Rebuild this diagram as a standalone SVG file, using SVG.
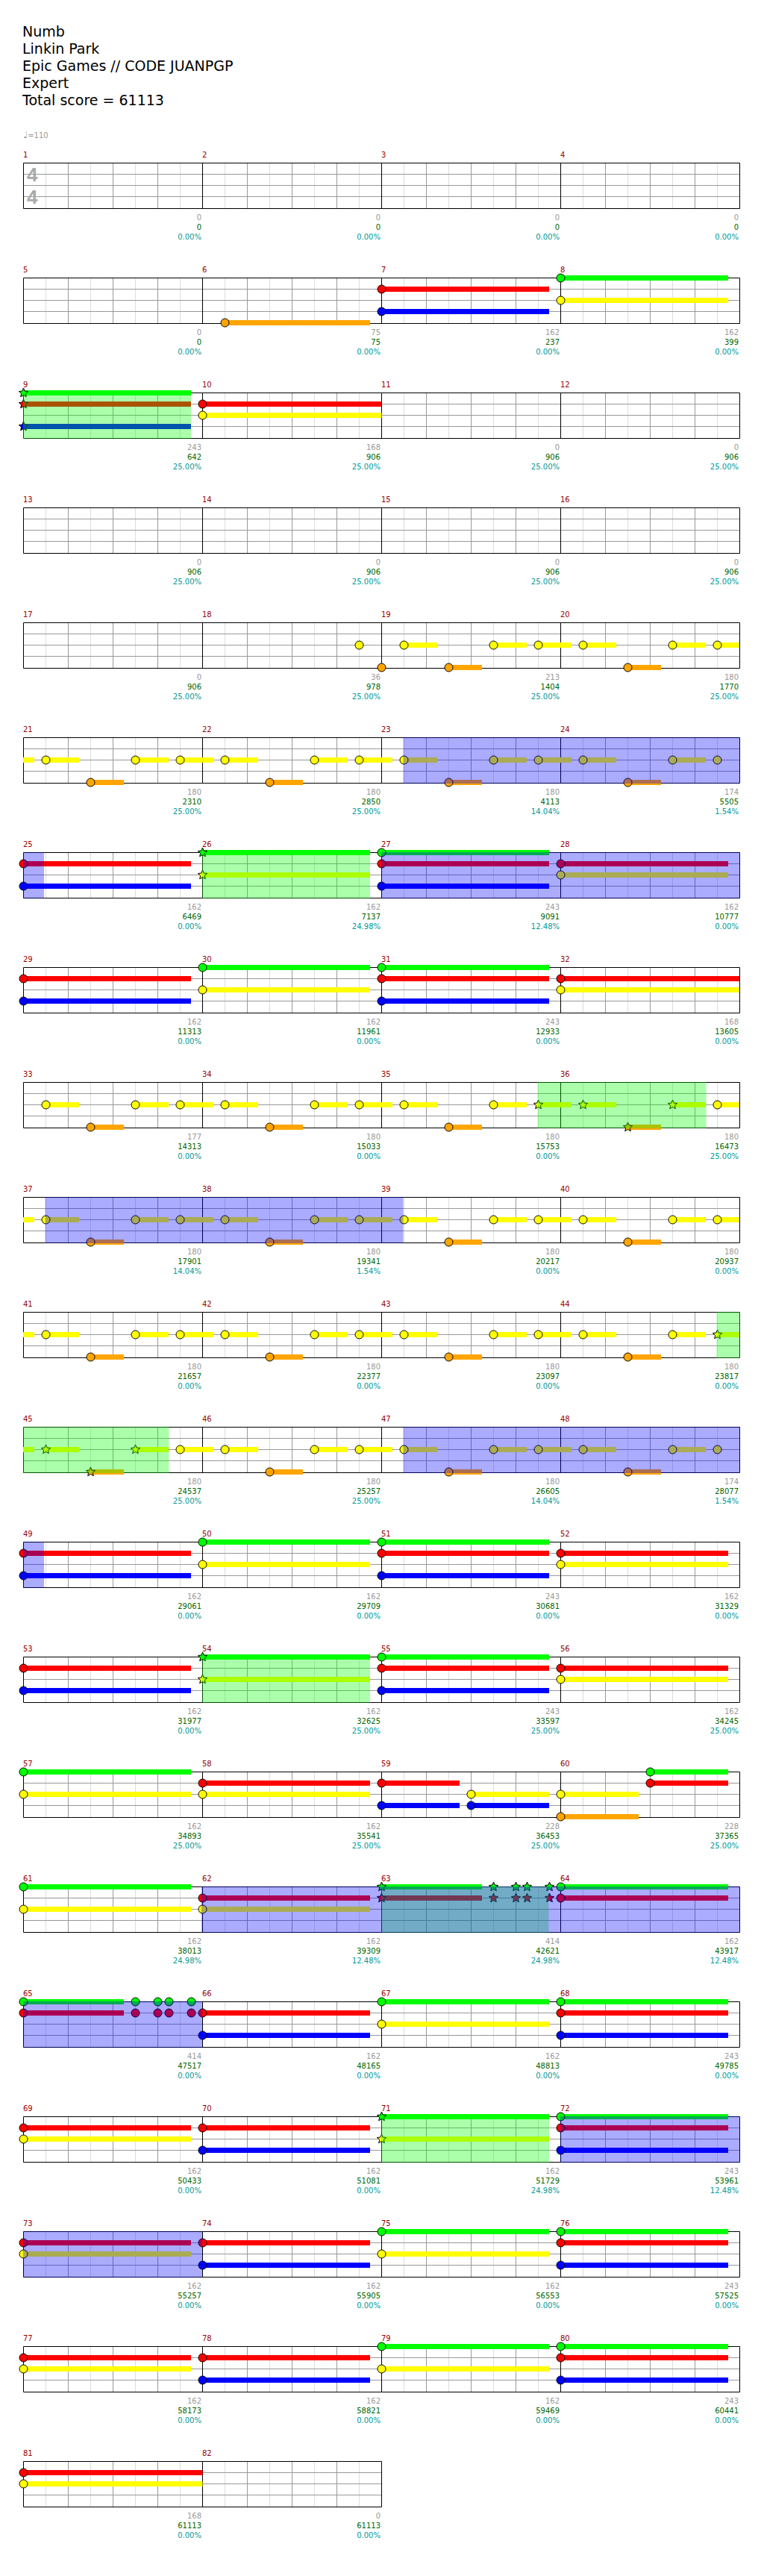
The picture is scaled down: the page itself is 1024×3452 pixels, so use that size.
<svg xmlns="http://www.w3.org/2000/svg" width="1024" height="3452" viewBox="0 0 1024 3452">
<style>
text{font-family:"DejaVu Sans",sans-serif}
.ti{font-size:19px;fill:#000}
.tp{font-size:10px;fill:#999}
.ts{font-family:"Liberation Sans",sans-serif;font-size:26px;font-weight:bold;fill:#aaa}
.mn{font-size:10px;fill:#900}
.l1,.l2,.l3{font-size:10px;text-anchor:end}
.l1{fill:#999}.l2{fill:#060}.l3{fill:#099}
.lt{stroke:#ddd;fill:none}
.md{stroke:#999;fill:none}
.bk{stroke:#000;fill:none}
.s{stroke-width:7;fill:none}
.sG{stroke:#0f0}.sR{stroke:#f00}.sY{stroke:#ff0}.sB{stroke:#00f}.sO{stroke:#ffa500}
.n{stroke:#000;stroke-width:1}
.G{fill:#0f0}.R{fill:#f00}.Y{fill:#ff0}.B{fill:#00f}.O{fill:#ffa500}
.og{fill:#0f0;fill-opacity:.33}
.ob{fill:#00f;fill-opacity:.33}
</style>
<defs>
<polygon id="st" points="0,-6.5 1.76,-2.43 6.18,-2.01 2.85,0.93 3.82,5.26 0,3 -3.82,5.26 -2.85,0.93 -6.18,-2.01 -1.76,-2.43" stroke="#000" stroke-width="1"/>
<g id="g4">
<path class="lt" d="M61.5 0v62M121.5 0v62M181.5 0v62M241.5 0v62M301.5 0v62M361.5 0v62M421.5 0v62M481.5 0v62M541.5 0v62M601.5 0v62M661.5 0v62M721.5 0v62M781.5 0v62M841.5 0v62M901.5 0v62M961.5 0v62"/>
<path class="md" d="M91.5 0v62M151.5 0v62M211.5 0v62M331.5 0v62M391.5 0v62M451.5 0v62M571.5 0v62M631.5 0v62M691.5 0v62M811.5 0v62M871.5 0v62M931.5 0v62M31 15.5h960M31 30.5h960M31 45.5h960"/>
<path class="bk" d="M31.5 0.5h960v61h-960zM271.5 0.5v61M511.5 0.5v61M751.5 0.5v61"/>
</g>
<g id="g2">
<path class="lt" d="M61.5 0v62M121.5 0v62M181.5 0v62M241.5 0v62M301.5 0v62M361.5 0v62M421.5 0v62M481.5 0v62"/>
<path class="md" d="M91.5 0v62M151.5 0v62M211.5 0v62M331.5 0v62M391.5 0v62M451.5 0v62M31 15.5h480M31 30.5h480M31 45.5h480"/>
<path class="bk" d="M31.5 0.5h480v61h-480zM271.5 0.5v61"/>
</g>
</defs>
<rect width="1024" height="3452" fill="#fff"/>
<g id="header">
<text class="ti" x="30" y="49">Numb</text>
<text class="ti" x="30" y="72">Linkin Park</text>
<text class="ti" x="30" y="95">Epic Games // CODE JUANPGP</text>
<text class="ti" x="30" y="118">Expert</text>
<text class="ti" x="30" y="141">Total score = 61113</text>
<text class="tp" x="31" y="185"><tspan font-size="13">♩</tspan>=110</text>
</g>

<g id="row1" transform="translate(0,218)">
<use href="#g4"/>
<text class="ts" x="36" y="24.5">4</text>
<text class="ts" x="36" y="54.5">4</text>
<text class="mn" x="31" y="-7">1</text><text class="mn" x="271" y="-7">2</text><text class="mn" x="511" y="-7">3</text><text class="mn" x="751" y="-7">4</text>
<text class="l1" x="270" y="76.5">0</text><text class="l2" x="270" y="89.5">0</text><text class="l3" x="270" y="102.5">0.00%</text>
<text class="l1" x="510" y="76.5">0</text><text class="l2" x="510" y="89.5">0</text><text class="l3" x="510" y="102.5">0.00%</text>
<text class="l1" x="750" y="76.5">0</text><text class="l2" x="750" y="89.5">0</text><text class="l3" x="750" y="102.5">0.00%</text>
<text class="l1" x="990" y="76.5">0</text><text class="l2" x="990" y="89.5">0</text><text class="l3" x="990" y="102.5">0.00%</text>
</g>

<g id="row2" transform="translate(0,372)">
<use href="#g4"/>
<text class="mn" x="31" y="-7">5</text><text class="mn" x="271" y="-7">6</text><text class="mn" x="511" y="-7">7</text><text class="mn" x="751" y="-7">8</text>
<path class="s sO" d="M301.5 60.5H496"/>
<path class="s sR" d="M511.5 15.5H736"/>
<path class="s sB" d="M511.5 45.5H736"/>
<path class="s sG" d="M751.5 0.5H976"/>
<path class="s sY" d="M751.5 30.5H976"/>
<circle class="n O" cx="301.5" cy="60.5" r="5.5"/>
<circle class="n R" cx="511.5" cy="15.5" r="5.5"/><circle class="n B" cx="511.5" cy="45.5" r="5.5"/>
<circle class="n G" cx="751.5" cy="0.5" r="5.5"/><circle class="n Y" cx="751.5" cy="30.5" r="5.5"/>
<text class="l1" x="270" y="76.5">0</text><text class="l2" x="270" y="89.5">0</text><text class="l3" x="270" y="102.5">0.00%</text>
<text class="l1" x="510" y="76.5">75</text><text class="l2" x="510" y="89.5">75</text><text class="l3" x="510" y="102.5">0.00%</text>
<text class="l1" x="750" y="76.5">162</text><text class="l2" x="750" y="89.5">237</text><text class="l3" x="750" y="102.5">0.00%</text>
<text class="l1" x="990" y="76.5">162</text><text class="l2" x="990" y="89.5">399</text><text class="l3" x="990" y="102.5">0.00%</text>
</g>

<g id="row3" transform="translate(0,526)">
<use href="#g4"/>
<text class="mn" x="31" y="-7">9</text><text class="mn" x="271" y="-7">10</text><text class="mn" x="511" y="-7">11</text><text class="mn" x="751" y="-7">12</text>
<path class="s sG" d="M31.5 0.5H256"/>
<path class="s sR" d="M31.5 15.5H256M271.5 15.5H511.5"/>
<path class="s sB" d="M31.5 45.5H256"/>
<path class="s sY" d="M271.5 30.5H511.5"/>
<use href="#st" class="G" x="31.5" y="0.5"/><use href="#st" class="R" x="31.5" y="15.5"/><use href="#st" class="B" x="31.5" y="45.5"/>
<circle class="n R" cx="271.5" cy="15.5" r="5.5"/><circle class="n Y" cx="271.5" cy="30.5" r="5.5"/>
<rect class="og" x="31" y="0" width="225" height="62"/>
<text class="l1" x="270" y="76.5">243</text><text class="l2" x="270" y="89.5">642</text><text class="l3" x="270" y="102.5">25.00%</text>
<text class="l1" x="510" y="76.5">168</text><text class="l2" x="510" y="89.5">906</text><text class="l3" x="510" y="102.5">25.00%</text>
<text class="l1" x="750" y="76.5">0</text><text class="l2" x="750" y="89.5">906</text><text class="l3" x="750" y="102.5">25.00%</text>
<text class="l1" x="990" y="76.5">0</text><text class="l2" x="990" y="89.5">906</text><text class="l3" x="990" y="102.5">25.00%</text>
</g>

<g id="row4" transform="translate(0,680)">
<use href="#g4"/>
<text class="mn" x="31" y="-7">13</text><text class="mn" x="271" y="-7">14</text><text class="mn" x="511" y="-7">15</text><text class="mn" x="751" y="-7">16</text>
<text class="l1" x="270" y="76.5">0</text><text class="l2" x="270" y="89.5">906</text><text class="l3" x="270" y="102.5">25.00%</text>
<text class="l1" x="510" y="76.5">0</text><text class="l2" x="510" y="89.5">906</text><text class="l3" x="510" y="102.5">25.00%</text>
<text class="l1" x="750" y="76.5">0</text><text class="l2" x="750" y="89.5">906</text><text class="l3" x="750" y="102.5">25.00%</text>
<text class="l1" x="990" y="76.5">0</text><text class="l2" x="990" y="89.5">906</text><text class="l3" x="990" y="102.5">25.00%</text>
</g>

<g id="row5" transform="translate(0,834)">
<use href="#g4"/>
<text class="mn" x="31" y="-7">17</text><text class="mn" x="271" y="-7">18</text><text class="mn" x="511" y="-7">19</text><text class="mn" x="751" y="-7">20</text>
<path class="s sY" d="M541.5 30.5H586M661.5 30.5H706M721.5 30.5H766M781.5 30.5H826M901.5 30.5H946M961.5 30.5H991"/>
<path class="s sO" d="M601.5 60.5H646M841.5 60.5H886"/>
<circle class="n Y" cx="481.5" cy="30.5" r="5.5"/>
<circle class="n O" cx="511.5" cy="60.5" r="5.5"/>
<circle class="n Y" cx="541.5" cy="30.5" r="5.5"/><circle class="n O" cx="601.5" cy="60.5" r="5.5"/><circle class="n Y" cx="661.5" cy="30.5" r="5.5"/><circle class="n Y" cx="721.5" cy="30.5" r="5.5"/>
<circle class="n Y" cx="781.5" cy="30.5" r="5.5"/><circle class="n O" cx="841.5" cy="60.5" r="5.5"/><circle class="n Y" cx="901.5" cy="30.5" r="5.5"/><circle class="n Y" cx="961.5" cy="30.5" r="5.5"/>
<text class="l1" x="270" y="76.5">0</text><text class="l2" x="270" y="89.5">906</text><text class="l3" x="270" y="102.5">25.00%</text>
<text class="l1" x="510" y="76.5">36</text><text class="l2" x="510" y="89.5">978</text><text class="l3" x="510" y="102.5">25.00%</text>
<text class="l1" x="750" y="76.5">213</text><text class="l2" x="750" y="89.5">1404</text><text class="l3" x="750" y="102.5">25.00%</text>
<text class="l1" x="990" y="76.5">180</text><text class="l2" x="990" y="89.5">1770</text><text class="l3" x="990" y="102.5">25.00%</text>
</g>

<g id="row6" transform="translate(0,988)">
<use href="#g4"/>
<text class="mn" x="31" y="-7">21</text><text class="mn" x="271" y="-7">22</text><text class="mn" x="511" y="-7">23</text><text class="mn" x="751" y="-7">24</text>
<path class="s sY" d="M31 30.5H46M61.5 30.5H106M181.5 30.5H226M241.5 30.5H286M301.5 30.5H346M421.5 30.5H466M481.5 30.5H526M541.5 30.5H586M661.5 30.5H706M721.5 30.5H766M781.5 30.5H826M901.5 30.5H946"/>
<path class="s sO" d="M121.5 60.5H166M361.5 60.5H406M601.5 60.5H646M841.5 60.5H886"/>
<circle class="n Y" cx="61.5" cy="30.5" r="5.5"/><circle class="n O" cx="121.5" cy="60.5" r="5.5"/><circle class="n Y" cx="181.5" cy="30.5" r="5.5"/><circle class="n Y" cx="241.5" cy="30.5" r="5.5"/>
<circle class="n Y" cx="301.5" cy="30.5" r="5.5"/><circle class="n O" cx="361.5" cy="60.5" r="5.5"/><circle class="n Y" cx="421.5" cy="30.5" r="5.5"/><circle class="n Y" cx="481.5" cy="30.5" r="5.5"/>
<circle class="n Y" cx="541.5" cy="30.5" r="5.5"/><circle class="n O" cx="601.5" cy="60.5" r="5.5"/><circle class="n Y" cx="661.5" cy="30.5" r="5.5"/><circle class="n Y" cx="721.5" cy="30.5" r="5.5"/>
<circle class="n Y" cx="781.5" cy="30.5" r="5.5"/><circle class="n O" cx="841.5" cy="60.5" r="5.5"/><circle class="n Y" cx="901.5" cy="30.5" r="5.5"/><circle class="n Y" cx="961.5" cy="30.5" r="5.5"/>
<rect class="ob" x="540.5" y="0" width="451.5" height="62"/>
<text class="l1" x="270" y="76.5">180</text><text class="l2" x="270" y="89.5">2310</text><text class="l3" x="270" y="102.5">25.00%</text>
<text class="l1" x="510" y="76.5">180</text><text class="l2" x="510" y="89.5">2850</text><text class="l3" x="510" y="102.5">25.00%</text>
<text class="l1" x="750" y="76.5">180</text><text class="l2" x="750" y="89.5">4113</text><text class="l3" x="750" y="102.5">14.04%</text>
<text class="l1" x="990" y="76.5">174</text><text class="l2" x="990" y="89.5">5505</text><text class="l3" x="990" y="102.5">1.54%</text>
</g>

<g id="row7" transform="translate(0,1142)">
<use href="#g4"/>
<text class="mn" x="31" y="-7">25</text><text class="mn" x="271" y="-7">26</text><text class="mn" x="511" y="-7">27</text><text class="mn" x="751" y="-7">28</text>
<path class="s sG" d="M271.5 0.5H496M511.5 0.5H736"/>
<path class="s sR" d="M31.5 15.5H256M511.5 15.5H736M751.5 15.5H976"/>
<path class="s sY" d="M271.5 30.5H496M751.5 30.5H976"/>
<path class="s sB" d="M31.5 45.5H256M511.5 45.5H736"/>
<circle class="n R" cx="31.5" cy="15.5" r="5.5"/><circle class="n B" cx="31.5" cy="45.5" r="5.5"/>
<use href="#st" class="G" x="271.5" y="0.5"/><use href="#st" class="Y" x="271.5" y="30.5"/>
<circle class="n G" cx="511.5" cy="0.5" r="5.5"/><circle class="n R" cx="511.5" cy="15.5" r="5.5"/><circle class="n B" cx="511.5" cy="45.5" r="5.5"/>
<circle class="n R" cx="751.5" cy="15.5" r="5.5"/><circle class="n Y" cx="751.5" cy="30.5" r="5.5"/>
<rect class="ob" x="31" y="0" width="28" height="62"/>
<rect class="og" x="271" y="0" width="225" height="62"/>
<rect class="ob" x="511" y="0" width="481" height="62"/>
<text class="l1" x="270" y="76.5">162</text><text class="l2" x="270" y="89.5">6469</text><text class="l3" x="270" y="102.5">0.00%</text>
<text class="l1" x="510" y="76.5">162</text><text class="l2" x="510" y="89.5">7137</text><text class="l3" x="510" y="102.5">24.98%</text>
<text class="l1" x="750" y="76.5">243</text><text class="l2" x="750" y="89.5">9091</text><text class="l3" x="750" y="102.5">12.48%</text>
<text class="l1" x="990" y="76.5">162</text><text class="l2" x="990" y="89.5">10777</text><text class="l3" x="990" y="102.5">0.00%</text>
</g>

<g id="row8" transform="translate(0,1296)">
<use href="#g4"/>
<text class="mn" x="31" y="-7">29</text><text class="mn" x="271" y="-7">30</text><text class="mn" x="511" y="-7">31</text><text class="mn" x="751" y="-7">32</text>
<path class="s sG" d="M271.5 0.5H496M511.5 0.5H736"/>
<path class="s sR" d="M31.5 15.5H256M511.5 15.5H736M751.5 15.5H991"/>
<path class="s sY" d="M271.5 30.5H496M751.5 30.5H991"/>
<path class="s sB" d="M31.5 45.5H256M511.5 45.5H736"/>
<circle class="n R" cx="31.5" cy="15.5" r="5.5"/><circle class="n B" cx="31.5" cy="45.5" r="5.5"/>
<circle class="n G" cx="271.5" cy="0.5" r="5.5"/><circle class="n Y" cx="271.5" cy="30.5" r="5.5"/>
<circle class="n G" cx="511.5" cy="0.5" r="5.5"/><circle class="n R" cx="511.5" cy="15.5" r="5.5"/><circle class="n B" cx="511.5" cy="45.5" r="5.5"/>
<circle class="n R" cx="751.5" cy="15.5" r="5.5"/><circle class="n Y" cx="751.5" cy="30.5" r="5.5"/>
<text class="l1" x="270" y="76.5">162</text><text class="l2" x="270" y="89.5">11313</text><text class="l3" x="270" y="102.5">0.00%</text>
<text class="l1" x="510" y="76.5">162</text><text class="l2" x="510" y="89.5">11961</text><text class="l3" x="510" y="102.5">0.00%</text>
<text class="l1" x="750" y="76.5">243</text><text class="l2" x="750" y="89.5">12933</text><text class="l3" x="750" y="102.5">0.00%</text>
<text class="l1" x="990" y="76.5">168</text><text class="l2" x="990" y="89.5">13605</text><text class="l3" x="990" y="102.5">0.00%</text>
</g>

<g id="row9" transform="translate(0,1450)">
<use href="#g4"/>
<text class="mn" x="31" y="-7">33</text><text class="mn" x="271" y="-7">34</text><text class="mn" x="511" y="-7">35</text><text class="mn" x="751" y="-7">36</text>
<path class="s sY" d="M61.5 30.5H106M181.5 30.5H226M241.5 30.5H286M301.5 30.5H346M421.5 30.5H466M481.5 30.5H526M541.5 30.5H586M661.5 30.5H706M721.5 30.5H766M781.5 30.5H826M901.5 30.5H946M961.5 30.5H991"/>
<path class="s sO" d="M121.5 60.5H166M361.5 60.5H406M601.5 60.5H646M841.5 60.5H886"/>
<circle class="n Y" cx="61.5" cy="30.5" r="5.5"/><circle class="n O" cx="121.5" cy="60.5" r="5.5"/><circle class="n Y" cx="181.5" cy="30.5" r="5.5"/><circle class="n Y" cx="241.5" cy="30.5" r="5.5"/>
<circle class="n Y" cx="301.5" cy="30.5" r="5.5"/><circle class="n O" cx="361.5" cy="60.5" r="5.5"/><circle class="n Y" cx="421.5" cy="30.5" r="5.5"/><circle class="n Y" cx="481.5" cy="30.5" r="5.5"/>
<circle class="n Y" cx="541.5" cy="30.5" r="5.5"/><circle class="n O" cx="601.5" cy="60.5" r="5.5"/><circle class="n Y" cx="661.5" cy="30.5" r="5.5"/><use href="#st" class="Y" x="721.5" y="30.5"/>
<use href="#st" class="Y" x="781.5" y="30.5"/><use href="#st" class="O" x="841.5" y="60.5"/><use href="#st" class="Y" x="901.5" y="30.5"/><circle class="n Y" cx="961.5" cy="30.5" r="5.5"/>
<rect class="og" x="720.5" y="0" width="226" height="62"/>
<text class="l1" x="270" y="76.5">177</text><text class="l2" x="270" y="89.5">14313</text><text class="l3" x="270" y="102.5">0.00%</text>
<text class="l1" x="510" y="76.5">180</text><text class="l2" x="510" y="89.5">15033</text><text class="l3" x="510" y="102.5">0.00%</text>
<text class="l1" x="750" y="76.5">180</text><text class="l2" x="750" y="89.5">15753</text><text class="l3" x="750" y="102.5">0.00%</text>
<text class="l1" x="990" y="76.5">180</text><text class="l2" x="990" y="89.5">16473</text><text class="l3" x="990" y="102.5">25.00%</text>
</g>

<g id="row10" transform="translate(0,1604)">
<use href="#g4"/>
<text class="mn" x="31" y="-7">37</text><text class="mn" x="271" y="-7">38</text><text class="mn" x="511" y="-7">39</text><text class="mn" x="751" y="-7">40</text>
<path class="s sY" d="M31 30.5H46M61.5 30.5H106M181.5 30.5H226M241.5 30.5H286M301.5 30.5H346M421.5 30.5H466M481.5 30.5H526M541.5 30.5H586M661.5 30.5H706M721.5 30.5H766M781.5 30.5H826M901.5 30.5H946M961.5 30.5H991"/>
<path class="s sO" d="M121.5 60.5H166M361.5 60.5H406M601.5 60.5H646M841.5 60.5H886"/>
<circle class="n Y" cx="61.5" cy="30.5" r="5.5"/><circle class="n O" cx="121.5" cy="60.5" r="5.5"/><circle class="n Y" cx="181.5" cy="30.5" r="5.5"/><circle class="n Y" cx="241.5" cy="30.5" r="5.5"/>
<circle class="n Y" cx="301.5" cy="30.5" r="5.5"/><circle class="n O" cx="361.5" cy="60.5" r="5.5"/><circle class="n Y" cx="421.5" cy="30.5" r="5.5"/><circle class="n Y" cx="481.5" cy="30.5" r="5.5"/>
<circle class="n Y" cx="541.5" cy="30.5" r="5.5"/><circle class="n O" cx="601.5" cy="60.5" r="5.5"/><circle class="n Y" cx="661.5" cy="30.5" r="5.5"/><circle class="n Y" cx="721.5" cy="30.5" r="5.5"/>
<circle class="n Y" cx="781.5" cy="30.5" r="5.5"/><circle class="n O" cx="841.5" cy="60.5" r="5.5"/><circle class="n Y" cx="901.5" cy="30.5" r="5.5"/><circle class="n Y" cx="961.5" cy="30.5" r="5.5"/>
<rect class="ob" x="60.5" y="0" width="480" height="62"/>
<text class="l1" x="270" y="76.5">180</text><text class="l2" x="270" y="89.5">17901</text><text class="l3" x="270" y="102.5">14.04%</text>
<text class="l1" x="510" y="76.5">180</text><text class="l2" x="510" y="89.5">19341</text><text class="l3" x="510" y="102.5">1.54%</text>
<text class="l1" x="750" y="76.5">180</text><text class="l2" x="750" y="89.5">20217</text><text class="l3" x="750" y="102.5">0.00%</text>
<text class="l1" x="990" y="76.5">180</text><text class="l2" x="990" y="89.5">20937</text><text class="l3" x="990" y="102.5">0.00%</text>
</g>

<g id="row11" transform="translate(0,1758)">
<use href="#g4"/>
<text class="mn" x="31" y="-7">41</text><text class="mn" x="271" y="-7">42</text><text class="mn" x="511" y="-7">43</text><text class="mn" x="751" y="-7">44</text>
<path class="s sY" d="M31 30.5H46M61.5 30.5H106M181.5 30.5H226M241.5 30.5H286M301.5 30.5H346M421.5 30.5H466M481.5 30.5H526M541.5 30.5H586M661.5 30.5H706M721.5 30.5H766M781.5 30.5H826M901.5 30.5H946M961.5 30.5H991"/>
<path class="s sO" d="M121.5 60.5H166M361.5 60.5H406M601.5 60.5H646M841.5 60.5H886"/>
<circle class="n Y" cx="61.5" cy="30.5" r="5.5"/><circle class="n O" cx="121.5" cy="60.5" r="5.5"/><circle class="n Y" cx="181.5" cy="30.5" r="5.5"/><circle class="n Y" cx="241.5" cy="30.5" r="5.5"/>
<circle class="n Y" cx="301.5" cy="30.5" r="5.5"/><circle class="n O" cx="361.5" cy="60.5" r="5.5"/><circle class="n Y" cx="421.5" cy="30.5" r="5.5"/><circle class="n Y" cx="481.5" cy="30.5" r="5.5"/>
<circle class="n Y" cx="541.5" cy="30.5" r="5.5"/><circle class="n O" cx="601.5" cy="60.5" r="5.5"/><circle class="n Y" cx="661.5" cy="30.5" r="5.5"/><circle class="n Y" cx="721.5" cy="30.5" r="5.5"/>
<circle class="n Y" cx="781.5" cy="30.5" r="5.5"/><circle class="n O" cx="841.5" cy="60.5" r="5.5"/><circle class="n Y" cx="901.5" cy="30.5" r="5.5"/><use href="#st" class="Y" x="961.5" y="30.5"/>
<rect class="og" x="960.5" y="0" width="31.5" height="62"/>
<text class="l1" x="270" y="76.5">180</text><text class="l2" x="270" y="89.5">21657</text><text class="l3" x="270" y="102.5">0.00%</text>
<text class="l1" x="510" y="76.5">180</text><text class="l2" x="510" y="89.5">22377</text><text class="l3" x="510" y="102.5">0.00%</text>
<text class="l1" x="750" y="76.5">180</text><text class="l2" x="750" y="89.5">23097</text><text class="l3" x="750" y="102.5">0.00%</text>
<text class="l1" x="990" y="76.5">180</text><text class="l2" x="990" y="89.5">23817</text><text class="l3" x="990" y="102.5">0.00%</text>
</g>

<g id="row12" transform="translate(0,1912)">
<use href="#g4"/>
<text class="mn" x="31" y="-7">45</text><text class="mn" x="271" y="-7">46</text><text class="mn" x="511" y="-7">47</text><text class="mn" x="751" y="-7">48</text>
<path class="s sY" d="M31 30.5H46M61.5 30.5H106M181.5 30.5H226M241.5 30.5H286M301.5 30.5H346M421.5 30.5H466M481.5 30.5H526M541.5 30.5H586M661.5 30.5H706M721.5 30.5H766M781.5 30.5H826M901.5 30.5H946"/>
<path class="s sO" d="M121.5 60.5H166M361.5 60.5H406M601.5 60.5H646M841.5 60.5H886"/>
<use href="#st" class="Y" x="61.5" y="30.5"/><use href="#st" class="O" x="121.5" y="60.5"/><use href="#st" class="Y" x="181.5" y="30.5"/><circle class="n Y" cx="241.5" cy="30.5" r="5.5"/>
<circle class="n Y" cx="301.5" cy="30.5" r="5.5"/><circle class="n O" cx="361.5" cy="60.5" r="5.5"/><circle class="n Y" cx="421.5" cy="30.5" r="5.5"/><circle class="n Y" cx="481.5" cy="30.5" r="5.5"/>
<circle class="n Y" cx="541.5" cy="30.5" r="5.5"/><circle class="n O" cx="601.5" cy="60.5" r="5.5"/><circle class="n Y" cx="661.5" cy="30.5" r="5.5"/><circle class="n Y" cx="721.5" cy="30.5" r="5.5"/>
<circle class="n Y" cx="781.5" cy="30.5" r="5.5"/><circle class="n O" cx="841.5" cy="60.5" r="5.5"/><circle class="n Y" cx="901.5" cy="30.5" r="5.5"/><circle class="n Y" cx="961.5" cy="30.5" r="5.5"/>
<rect class="og" x="31" y="0" width="195.5" height="62"/>
<rect class="ob" x="540.5" y="0" width="451.5" height="62"/>
<text class="l1" x="270" y="76.5">180</text><text class="l2" x="270" y="89.5">24537</text><text class="l3" x="270" y="102.5">25.00%</text>
<text class="l1" x="510" y="76.5">180</text><text class="l2" x="510" y="89.5">25257</text><text class="l3" x="510" y="102.5">25.00%</text>
<text class="l1" x="750" y="76.5">180</text><text class="l2" x="750" y="89.5">26605</text><text class="l3" x="750" y="102.5">14.04%</text>
<text class="l1" x="990" y="76.5">174</text><text class="l2" x="990" y="89.5">28077</text><text class="l3" x="990" y="102.5">1.54%</text>
</g>

<g id="row13" transform="translate(0,2066)">
<use href="#g4"/>
<text class="mn" x="31" y="-7">49</text><text class="mn" x="271" y="-7">50</text><text class="mn" x="511" y="-7">51</text><text class="mn" x="751" y="-7">52</text>
<path class="s sG" d="M271.5 0.5H496M511.5 0.5H736"/>
<path class="s sR" d="M31.5 15.5H256M511.5 15.5H736M751.5 15.5H976"/>
<path class="s sY" d="M271.5 30.5H496M751.5 30.5H976"/>
<path class="s sB" d="M31.5 45.5H256M511.5 45.5H736"/>
<circle class="n R" cx="31.5" cy="15.5" r="5.5"/><circle class="n B" cx="31.5" cy="45.5" r="5.5"/>
<circle class="n G" cx="271.5" cy="0.5" r="5.5"/><circle class="n Y" cx="271.5" cy="30.5" r="5.5"/>
<circle class="n G" cx="511.5" cy="0.5" r="5.5"/><circle class="n R" cx="511.5" cy="15.5" r="5.5"/><circle class="n B" cx="511.5" cy="45.5" r="5.5"/>
<circle class="n R" cx="751.5" cy="15.5" r="5.5"/><circle class="n Y" cx="751.5" cy="30.5" r="5.5"/>
<rect class="ob" x="31" y="0" width="28" height="62"/>
<text class="l1" x="270" y="76.5">162</text><text class="l2" x="270" y="89.5">29061</text><text class="l3" x="270" y="102.5">0.00%</text>
<text class="l1" x="510" y="76.5">162</text><text class="l2" x="510" y="89.5">29709</text><text class="l3" x="510" y="102.5">0.00%</text>
<text class="l1" x="750" y="76.5">243</text><text class="l2" x="750" y="89.5">30681</text><text class="l3" x="750" y="102.5">0.00%</text>
<text class="l1" x="990" y="76.5">162</text><text class="l2" x="990" y="89.5">31329</text><text class="l3" x="990" y="102.5">0.00%</text>
</g>

<g id="row14" transform="translate(0,2220)">
<use href="#g4"/>
<text class="mn" x="31" y="-7">53</text><text class="mn" x="271" y="-7">54</text><text class="mn" x="511" y="-7">55</text><text class="mn" x="751" y="-7">56</text>
<path class="s sG" d="M271.5 0.5H496M511.5 0.5H736"/>
<path class="s sR" d="M31.5 15.5H256M511.5 15.5H736M751.5 15.5H976"/>
<path class="s sY" d="M271.5 30.5H496M751.5 30.5H976"/>
<path class="s sB" d="M31.5 45.5H256M511.5 45.5H736"/>
<circle class="n R" cx="31.5" cy="15.5" r="5.5"/><circle class="n B" cx="31.5" cy="45.5" r="5.5"/>
<use href="#st" class="G" x="271.5" y="0.5"/><use href="#st" class="Y" x="271.5" y="30.5"/>
<circle class="n G" cx="511.5" cy="0.5" r="5.5"/><circle class="n R" cx="511.5" cy="15.5" r="5.5"/><circle class="n B" cx="511.5" cy="45.5" r="5.5"/>
<circle class="n R" cx="751.5" cy="15.5" r="5.5"/><circle class="n Y" cx="751.5" cy="30.5" r="5.5"/>
<rect class="og" x="271" y="0" width="225" height="62"/>
<text class="l1" x="270" y="76.5">162</text><text class="l2" x="270" y="89.5">31977</text><text class="l3" x="270" y="102.5">0.00%</text>
<text class="l1" x="510" y="76.5">162</text><text class="l2" x="510" y="89.5">32625</text><text class="l3" x="510" y="102.5">25.00%</text>
<text class="l1" x="750" y="76.5">243</text><text class="l2" x="750" y="89.5">33597</text><text class="l3" x="750" y="102.5">25.00%</text>
<text class="l1" x="990" y="76.5">162</text><text class="l2" x="990" y="89.5">34245</text><text class="l3" x="990" y="102.5">25.00%</text>
</g>

<g id="row15" transform="translate(0,2374)">
<use href="#g4"/>
<text class="mn" x="31" y="-7">57</text><text class="mn" x="271" y="-7">58</text><text class="mn" x="511" y="-7">59</text><text class="mn" x="751" y="-7">60</text>
<path class="s sG" d="M31.5 0.5H256M871.5 0.5H976"/>
<path class="s sR" d="M271.5 15.5H496M511.5 15.5H616M871.5 15.5H976"/>
<path class="s sY" d="M31.5 30.5H256M271.5 30.5H496M631.5 30.5H736M751.5 30.5H856"/>
<path class="s sB" d="M511.5 45.5H616M631.5 45.5H736"/>
<path class="s sO" d="M751.5 60.5H856"/>
<circle class="n G" cx="31.5" cy="0.5" r="5.5"/><circle class="n Y" cx="31.5" cy="30.5" r="5.5"/>
<circle class="n R" cx="271.5" cy="15.5" r="5.5"/><circle class="n Y" cx="271.5" cy="30.5" r="5.5"/>
<circle class="n R" cx="511.5" cy="15.5" r="5.5"/><circle class="n B" cx="511.5" cy="45.5" r="5.5"/>
<circle class="n Y" cx="631.5" cy="30.5" r="5.5"/><circle class="n B" cx="631.5" cy="45.5" r="5.5"/>
<circle class="n Y" cx="751.5" cy="30.5" r="5.5"/><circle class="n O" cx="751.5" cy="60.5" r="5.5"/>
<circle class="n G" cx="871.5" cy="0.5" r="5.5"/><circle class="n R" cx="871.5" cy="15.5" r="5.5"/>
<text class="l1" x="270" y="76.5">162</text><text class="l2" x="270" y="89.5">34893</text><text class="l3" x="270" y="102.5">25.00%</text>
<text class="l1" x="510" y="76.5">162</text><text class="l2" x="510" y="89.5">35541</text><text class="l3" x="510" y="102.5">25.00%</text>
<text class="l1" x="750" y="76.5">228</text><text class="l2" x="750" y="89.5">36453</text><text class="l3" x="750" y="102.5">25.00%</text>
<text class="l1" x="990" y="76.5">228</text><text class="l2" x="990" y="89.5">37365</text><text class="l3" x="990" y="102.5">25.00%</text>
</g>

<g id="row16" transform="translate(0,2528)">
<use href="#g4"/>
<text class="mn" x="31" y="-7">61</text><text class="mn" x="271" y="-7">62</text><text class="mn" x="511" y="-7">63</text><text class="mn" x="751" y="-7">64</text>
<path class="s sG" d="M31.5 0.5H256M511.5 0.5H646M751.5 0.5H976"/>
<path class="s sR" d="M271.5 15.5H496M511.5 15.5H646M751.5 15.5H976"/>
<path class="s sY" d="M31.5 30.5H256M271.5 30.5H496"/>
<circle class="n G" cx="31.5" cy="0.5" r="5.5"/><circle class="n Y" cx="31.5" cy="30.5" r="5.5"/>
<circle class="n R" cx="271.5" cy="15.5" r="5.5"/><circle class="n Y" cx="271.5" cy="30.5" r="5.5"/>
<use href="#st" class="G" x="511.5" y="0.5"/><use href="#st" class="R" x="511.5" y="15.5"/>
<use href="#st" class="G" x="661.5" y="0.5"/><use href="#st" class="R" x="661.5" y="15.5"/>
<use href="#st" class="G" x="691.5" y="0.5"/><use href="#st" class="R" x="691.5" y="15.5"/>
<use href="#st" class="G" x="706.5" y="0.5"/><use href="#st" class="R" x="706.5" y="15.5"/>
<use href="#st" class="G" x="736.5" y="0.5"/><use href="#st" class="R" x="736.5" y="15.5"/>
<circle class="n G" cx="751.5" cy="0.5" r="5.5"/><circle class="n R" cx="751.5" cy="15.5" r="5.5"/>
<rect class="og" x="511" y="0" width="224.5" height="62"/>
<rect class="ob" x="270" y="0" width="722" height="62"/>
<text class="l1" x="270" y="76.5">162</text><text class="l2" x="270" y="89.5">38013</text><text class="l3" x="270" y="102.5">24.98%</text>
<text class="l1" x="510" y="76.5">162</text><text class="l2" x="510" y="89.5">39309</text><text class="l3" x="510" y="102.5">12.48%</text>
<text class="l1" x="750" y="76.5">414</text><text class="l2" x="750" y="89.5">42621</text><text class="l3" x="750" y="102.5">24.98%</text>
<text class="l1" x="990" y="76.5">162</text><text class="l2" x="990" y="89.5">43917</text><text class="l3" x="990" y="102.5">12.48%</text>
</g>

<g id="row17" transform="translate(0,2682)">
<use href="#g4"/>
<text class="mn" x="31" y="-7">65</text><text class="mn" x="271" y="-7">66</text><text class="mn" x="511" y="-7">67</text><text class="mn" x="751" y="-7">68</text>
<path class="s sG" d="M31.5 0.5H166M511.5 0.5H736M751.5 0.5H976"/>
<path class="s sR" d="M31.5 15.5H166M271.5 15.5H496M751.5 15.5H976"/>
<path class="s sY" d="M511.5 30.5H736"/>
<path class="s sB" d="M271.5 45.5H496M751.5 45.5H976"/>
<circle class="n G" cx="31.5" cy="0.5" r="5.5"/><circle class="n R" cx="31.5" cy="15.5" r="5.5"/>
<circle class="n G" cx="181.5" cy="0.5" r="5.5"/><circle class="n R" cx="181.5" cy="15.5" r="5.5"/>
<circle class="n G" cx="211.5" cy="0.5" r="5.5"/><circle class="n R" cx="211.5" cy="15.5" r="5.5"/>
<circle class="n G" cx="226.5" cy="0.5" r="5.5"/><circle class="n R" cx="226.5" cy="15.5" r="5.5"/>
<circle class="n G" cx="256.5" cy="0.5" r="5.5"/><circle class="n R" cx="256.5" cy="15.5" r="5.5"/>
<circle class="n R" cx="271.5" cy="15.5" r="5.5"/><circle class="n B" cx="271.5" cy="45.5" r="5.5"/>
<circle class="n G" cx="511.5" cy="0.5" r="5.5"/><circle class="n Y" cx="511.5" cy="30.5" r="5.5"/>
<circle class="n G" cx="751.5" cy="0.5" r="5.5"/><circle class="n R" cx="751.5" cy="15.5" r="5.5"/><circle class="n B" cx="751.5" cy="45.5" r="5.5"/>
<rect class="ob" x="31" y="0" width="240" height="62"/>
<text class="l1" x="270" y="76.5">414</text><text class="l2" x="270" y="89.5">47517</text><text class="l3" x="270" y="102.5">0.00%</text>
<text class="l1" x="510" y="76.5">162</text><text class="l2" x="510" y="89.5">48165</text><text class="l3" x="510" y="102.5">0.00%</text>
<text class="l1" x="750" y="76.5">162</text><text class="l2" x="750" y="89.5">48813</text><text class="l3" x="750" y="102.5">0.00%</text>
<text class="l1" x="990" y="76.5">243</text><text class="l2" x="990" y="89.5">49785</text><text class="l3" x="990" y="102.5">0.00%</text>
</g>

<g id="row18" transform="translate(0,2836)">
<use href="#g4"/>
<text class="mn" x="31" y="-7">69</text><text class="mn" x="271" y="-7">70</text><text class="mn" x="511" y="-7">71</text><text class="mn" x="751" y="-7">72</text>
<path class="s sG" d="M511.5 0.5H736M751.5 0.5H976"/>
<path class="s sR" d="M31.5 15.5H256M271.5 15.5H496M751.5 15.5H976"/>
<path class="s sY" d="M31.5 30.5H256M511.5 30.5H736"/>
<path class="s sB" d="M271.5 45.5H496M751.5 45.5H976"/>
<circle class="n R" cx="31.5" cy="15.5" r="5.5"/><circle class="n Y" cx="31.5" cy="30.5" r="5.5"/>
<circle class="n R" cx="271.5" cy="15.5" r="5.5"/><circle class="n B" cx="271.5" cy="45.5" r="5.5"/>
<use href="#st" class="G" x="511.5" y="0.5"/><use href="#st" class="Y" x="511.5" y="30.5"/>
<circle class="n G" cx="751.5" cy="0.5" r="5.5"/><circle class="n R" cx="751.5" cy="15.5" r="5.5"/><circle class="n B" cx="751.5" cy="45.5" r="5.5"/>
<rect class="og" x="511" y="0" width="225" height="62"/>
<rect class="ob" x="751" y="0" width="241" height="62"/>
<text class="l1" x="270" y="76.5">162</text><text class="l2" x="270" y="89.5">50433</text><text class="l3" x="270" y="102.5">0.00%</text>
<text class="l1" x="510" y="76.5">162</text><text class="l2" x="510" y="89.5">51081</text><text class="l3" x="510" y="102.5">0.00%</text>
<text class="l1" x="750" y="76.5">162</text><text class="l2" x="750" y="89.5">51729</text><text class="l3" x="750" y="102.5">24.98%</text>
<text class="l1" x="990" y="76.5">243</text><text class="l2" x="990" y="89.5">53961</text><text class="l3" x="990" y="102.5">12.48%</text>
</g>

<g id="row19" transform="translate(0,2990)">
<use href="#g4"/>
<text class="mn" x="31" y="-7">73</text><text class="mn" x="271" y="-7">74</text><text class="mn" x="511" y="-7">75</text><text class="mn" x="751" y="-7">76</text>
<path class="s sG" d="M511.5 0.5H736M751.5 0.5H976"/>
<path class="s sR" d="M31.5 15.5H256M271.5 15.5H496M751.5 15.5H976"/>
<path class="s sY" d="M31.5 30.5H256M511.5 30.5H736"/>
<path class="s sB" d="M271.5 45.5H496M751.5 45.5H976"/>
<circle class="n R" cx="31.5" cy="15.5" r="5.5"/><circle class="n Y" cx="31.5" cy="30.5" r="5.5"/>
<circle class="n R" cx="271.5" cy="15.5" r="5.5"/><circle class="n B" cx="271.5" cy="45.5" r="5.5"/>
<circle class="n G" cx="511.5" cy="0.5" r="5.5"/><circle class="n Y" cx="511.5" cy="30.5" r="5.5"/>
<circle class="n G" cx="751.5" cy="0.5" r="5.5"/><circle class="n R" cx="751.5" cy="15.5" r="5.5"/><circle class="n B" cx="751.5" cy="45.5" r="5.5"/>
<rect class="ob" x="31" y="0" width="240" height="62"/>
<text class="l1" x="270" y="76.5">162</text><text class="l2" x="270" y="89.5">55257</text><text class="l3" x="270" y="102.5">0.00%</text>
<text class="l1" x="510" y="76.5">162</text><text class="l2" x="510" y="89.5">55905</text><text class="l3" x="510" y="102.5">0.00%</text>
<text class="l1" x="750" y="76.5">162</text><text class="l2" x="750" y="89.5">56553</text><text class="l3" x="750" y="102.5">0.00%</text>
<text class="l1" x="990" y="76.5">243</text><text class="l2" x="990" y="89.5">57525</text><text class="l3" x="990" y="102.5">0.00%</text>
</g>

<g id="row20" transform="translate(0,3144)">
<use href="#g4"/>
<text class="mn" x="31" y="-7">77</text><text class="mn" x="271" y="-7">78</text><text class="mn" x="511" y="-7">79</text><text class="mn" x="751" y="-7">80</text>
<path class="s sG" d="M511.5 0.5H736M751.5 0.5H976"/>
<path class="s sR" d="M31.5 15.5H256M271.5 15.5H496M751.5 15.5H976"/>
<path class="s sY" d="M31.5 30.5H256M511.5 30.5H736"/>
<path class="s sB" d="M271.5 45.5H496M751.5 45.5H976"/>
<circle class="n R" cx="31.5" cy="15.5" r="5.5"/><circle class="n Y" cx="31.5" cy="30.5" r="5.5"/>
<circle class="n R" cx="271.5" cy="15.5" r="5.5"/><circle class="n B" cx="271.5" cy="45.5" r="5.5"/>
<circle class="n G" cx="511.5" cy="0.5" r="5.5"/><circle class="n Y" cx="511.5" cy="30.5" r="5.5"/>
<circle class="n G" cx="751.5" cy="0.5" r="5.5"/><circle class="n R" cx="751.5" cy="15.5" r="5.5"/><circle class="n B" cx="751.5" cy="45.5" r="5.5"/>
<text class="l1" x="270" y="76.5">162</text><text class="l2" x="270" y="89.5">58173</text><text class="l3" x="270" y="102.5">0.00%</text>
<text class="l1" x="510" y="76.5">162</text><text class="l2" x="510" y="89.5">58821</text><text class="l3" x="510" y="102.5">0.00%</text>
<text class="l1" x="750" y="76.5">162</text><text class="l2" x="750" y="89.5">59469</text><text class="l3" x="750" y="102.5">0.00%</text>
<text class="l1" x="990" y="76.5">243</text><text class="l2" x="990" y="89.5">60441</text><text class="l3" x="990" y="102.5">0.00%</text>
</g>

<g id="row21" transform="translate(0,3298)">
<use href="#g2"/>
<text class="mn" x="31" y="-7">81</text><text class="mn" x="271" y="-7">82</text>
<path class="s sR" d="M31.5 15.5H271.5"/>
<path class="s sY" d="M31.5 30.5H271.5"/>
<circle class="n R" cx="31.5" cy="15.5" r="5.5"/><circle class="n Y" cx="31.5" cy="30.5" r="5.5"/>
<text class="l1" x="270" y="76.5">168</text><text class="l2" x="270" y="89.5">61113</text><text class="l3" x="270" y="102.5">0.00%</text>
<text class="l1" x="510" y="76.5">0</text><text class="l2" x="510" y="89.5">61113</text><text class="l3" x="510" y="102.5">0.00%</text>
</g>
</svg>
